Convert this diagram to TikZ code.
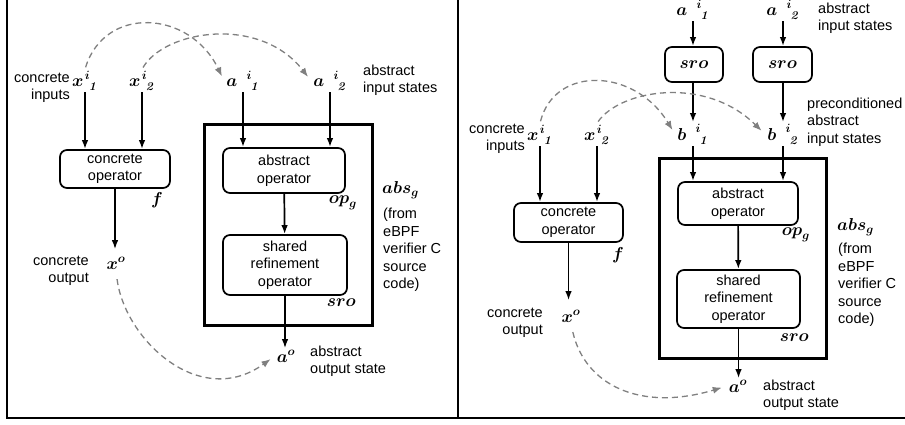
\documentclass[tikz,border=0pt]{standalone}
\usepackage[no-math]{fontspec}
\setmainfont{Liberation Sans}
\usepackage{amsmath}
\usetikzlibrary{shapes,arrows.meta,positioning}

% state variable with superscript i and numbered subscript
\newcommand{\sv}[3]{$\boldsymbol{#1}^{\mkern#3mu\boldsymbol{i}}_{\mkern#3mu\mkern6mu\boldsymbol{\mathit{#2}}}$}
\newcommand{\bi}[1]{$\boldsymbol{#1}$}

\begin{document}
\begin{tikzpicture}[x=1pt,y=-1pt,font=\fontsize{14.5}{17.5}\selectfont]
      \tikzstyle{op} = [rectangle, rounded corners=7pt, draw, line width=1.7pt, align=center, inner sep=2pt]
      \tikzstyle{absbox} = [rectangle, draw, line width=3pt]
      \tikzstyle{var} = [inner sep=2pt, anchor=base, font=\fontsize{17}{20}\selectfont]
      \tikzstyle{mlbl} = [inner sep=0pt, font=\fontsize{17}{20}\selectfont]
      \tikzstyle{lbl} = [inner sep=0pt, align=left]
      \tikzstyle{flow} = [-{Latex[length=9pt,width=6.5pt]}, line width=1.7pt]
      \tikzstyle{map} = [-{Latex[length=9pt,width=7pt]}, black!50, line width=1.3pt, dash pattern=on 6pt off 4pt, shorten >=5pt, shorten <=2pt]

      \useasboundingbox (0,0) rectangle (905,424);
      \draw[line width=2pt] (7,0) -- (7,418) -- (905,418);
      \draw[line width=2pt] (458,0) -- (458,418);

      % left: plain abstract operator
      \node[var] (x1) at (85,86) {\sv{x}{1}{2}};
      \node[var] (x2) at (142,86) {\sv{x}{2}{2}};
      \node[var] (a1) at (243,86) {\sv{a}{1}{14}};
      \node[var] (a2) at (330,86) {\sv{a}{2}{14}};
      \node[lbl, anchor=east, align=right] (cin) at (70,88) {concrete\\inputs};
      \node[lbl, anchor=west] (ain) at (363,80) {abstract\\input states};

      \node[op, minimum width=110, minimum height=38] (cop) at (115,169) {concrete\\operator};
      \node[absbox, minimum width=168, minimum height=201] (abs) at (288,224.5) {};
      \node[op, minimum width=122, minimum height=45] (aop) at (284,170.5) {abstract\\operator};
      \node[op, minimum width=124, minimum height=60] (sh) at (285,265) {shared\\refinement\\operator};

      \node[mlbl] (f) at (157,200) {\bi{f}};
      \node[mlbl, anchor=east] (opg) at (357,203) {$\boldsymbol{op}_{\boldsymbol{g}}$};
      \node[mlbl, anchor=east] (sro) at (356,303) {\bi{sro}};
      \node[mlbl, anchor=west] (absg) at (382,190) {$\boldsymbol{abs}_{\boldsymbol{g}}$};
      \node[lbl, anchor=west] (src) at (383,250) {(from\\eBPF\\verifier C\\source\\code)};

      \node[var] (xo) at (116,269) {$\boldsymbol{x}^{\boldsymbol{o}}$};
      \node[var] (ao) at (286,362) {$\boldsymbol{a}^{\boldsymbol{o}}$};
      \node[lbl, anchor=east, align=right] (cout) at (89,271) {concrete\\output};
      \node[lbl, anchor=west] (aout) at (310,361) {abstract\\output state};

      \draw[flow] (x1) -- (x1 |- cop.north);
      \draw[flow] (x2) -- (x2 |- cop.north);
      \draw[flow] (a1) -- (a1 |- aop.north);
      \draw[flow] (a2) -- (a2 |- aop.north);
      \draw[flow, shorten >=6pt] (cop) -- (cop |- xo.north);
      \draw[flow] (aop) -- (sh);
      \draw[flow] (sh) -- (sh |- ao.north);

      \draw[map] (x1.north) .. controls (105,5) and (190,10) .. (a1.west);
      \draw[map] (x2.north) .. controls (165,30) and (260,15) .. (a2.west);
      \draw[map, shorten <=8pt] (xo.south) .. controls (125,340) and (200,410) .. (ao.west);

      % right: with preconditioning
      \node[var] (ra1) at (693,15) {\sv{a}{1}{14}};
      \node[var] (ra2) at (783,15) {\sv{a}{2}{14}};
      \node[lbl, anchor=west] (rain) at (818,18) {abstract\\input states};
      \node[op, minimum width=58, minimum height=35, font=\fontsize{17}{20}\selectfont] (pre1) at (694,64.5) {\bi{sro}};
      \node[op, minimum width=59, minimum height=35, font=\fontsize{17}{20}\selectfont] (pre2) at (782.5,64.5) {\bi{sro}};

      \node[var] (rb1) at (693,140) {\sv{b}{1}{14}};
      \node[var] (rb2) at (783,140) {\sv{b}{2}{14}};
      \node[lbl, anchor=west] (rbin) at (807,122) {preconditioned\\abstract\\input states};
      \node[var] (rx1) at (540,140) {\sv{x}{1}{2}};
      \node[var] (rx2) at (597,140) {\sv{x}{2}{2}};
      \node[lbl, anchor=east, align=right] (rcin) at (525,139) {concrete\\inputs};

      \node[op, minimum width=109, minimum height=39] (rcop) at (568.5,222.5) {concrete\\operator};
      \node[absbox, minimum width=167, minimum height=200] (rabs) at (742.5,258) {};
      \node[op, minimum width=120, minimum height=43] (raop) at (738,203.5) {abstract\\operator};
      \node[op, minimum width=123, minimum height=58] (rsh) at (738.5,299) {shared\\refinement\\operator};

      \node[mlbl] (rf) at (618,255) {\bi{f}};
      \node[mlbl, anchor=east] (ropg) at (810,235) {$\boldsymbol{op}_{\boldsymbol{g}}$};
      \node[mlbl, anchor=east] (rsro) at (809,338) {\bi{sro}};
      \node[mlbl, anchor=west] (rabsg) at (837,227) {$\boldsymbol{abs}_{\boldsymbol{g}}$};
      \node[lbl, anchor=west] (rsrc) at (838,285) {(from\\eBPF\\verifier C\\source\\code)};

      \node[var] (rxo) at (571,322) {$\boldsymbol{x}^{\boldsymbol{o}}$};
      \node[var] (rao) at (738,392) {$\boldsymbol{a}^{\boldsymbol{o}}$};
      \node[lbl, anchor=east, align=right] (rcout) at (543,323) {concrete\\output};
      \node[lbl, anchor=west] (raout) at (763,395) {abstract\\output state};

      \draw[flow] (ra1) -- (ra1 |- pre1.north);
      \draw[flow] (ra2) -- (ra2 |- pre2.north);
      \draw[flow] (ra1 |- pre1.south) -- (rb1);
      \draw[flow] (ra2 |- pre2.south) -- (rb2);
      \draw[flow] (rb1) -- (rb1 |- raop.north);
      \draw[flow] (rb2) -- (rb2 |- raop.north);
      \draw[flow] (rx1) -- (rx1 |- rcop.north);
      \draw[flow] (rx2) -- (rx2 |- rcop.north);
      \draw[flow, shorten >=8pt] (rcop) -- (rcop |- rxo.north);
      \draw[flow] (raop) -- (rsh);
      \draw[flow] (rsh) -- (rsh |- rao.north);

      \draw[map] (rx1.north) .. controls (555,65) and (635,68) .. (rb1.west);
      \draw[map] (rx2.north) .. controls (620,90) and (705,75) .. (rb2.west);
      \draw[map, shorten <=8pt] (rxo.south) .. controls (585,385) and (640,412) .. (rao.west);
\end{tikzpicture}
\end{document}
